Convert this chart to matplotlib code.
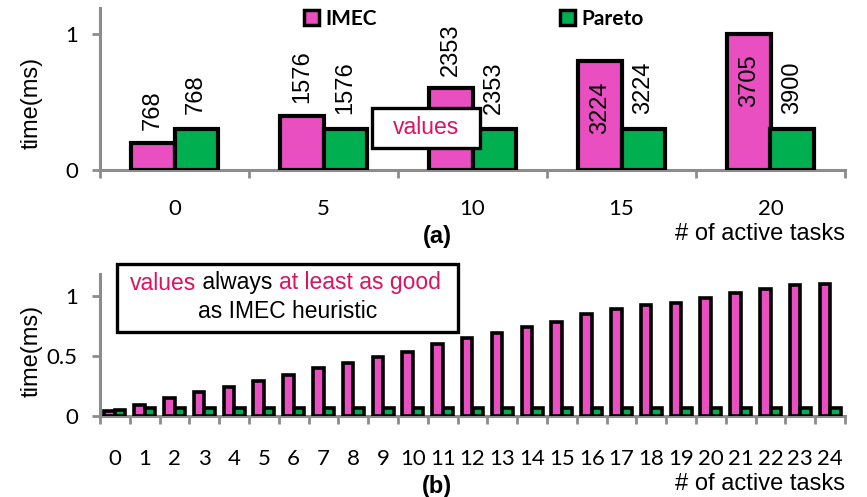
import matplotlib
matplotlib.use("Agg")
import matplotlib.pyplot as plt
import numpy as np
from matplotlib.patches import Patch, Rectangle

# ---- data (a)
cats_a = [0, 5, 10, 15, 20]
imec_a = [0.2, 0.4, 0.6, 0.8, 1.0]
pareto_a = [0.3, 0.3, 0.3, 0.3, 0.3]
imec_lab = ['768', '1576', '2353', '3224', '3705']
pareto_lab = ['768', '1576', '2353', '3224', '3900']

# ---- data (b)
cats_b = list(range(25))
imec_b = [0.04, 0.09, 0.15, 0.20, 0.24, 0.29, 0.335, 0.395, 0.44, 0.487, 0.533,
          0.595, 0.645, 0.69, 0.737, 0.783, 0.845, 0.889, 0.92, 0.937, 0.98,
          1.025, 1.056, 1.09, 1.10]
pareto_b = [0.05] + [0.06] * 24

PINK = '#E94FC0'
GREEN = '#00B050'
RED = '#E0115F'
GRAY = '#8C8C8C'

plt.rcParams['font.family'] = ['Liberation Sans', 'DejaVu Sans']

W, H = 867, 497
fig = plt.figure(figsize=(W / 100, H / 100), dpi=100)


def px(x0, y0, x1, y1):
    # pixel box -> figure rect
    return [x0 / W, 1 - y1 / H, (x1 - x0) / W, (y1 - y0) / H]


def style_axes(ax, n, ymax, yticks, ylabels, pad):
    for s in ['top', 'right']:
        ax.spines[s].set_visible(False)
    for s in ['left', 'bottom']:
        ax.spines[s].set_color(GRAY)
        ax.spines[s].set_linewidth(2.2)
    ax.set_xlim(-0.5, n - 0.5)
    ax.set_ylim(0, ymax)
    ax.set_xticks(np.arange(-0.5, n, 1.0))
    ax.set_xticklabels([])
    ax.tick_params(axis='x', which='major', direction='out', length=6,
                   width=2, color=GRAY)
    ax.set_yticks(yticks)
    ax.set_yticklabels(ylabels, fontfamily='Lato', fontsize=16)
    ax.tick_params(axis='y', direction='out', length=6, width=2,
                   color=GRAY, pad=10)
    ax.tick_params(axis='x', which='minor', length=0, pad=pad,
                   labelsize=16)


# ---------------- (a)
ax1 = fig.add_axes(px(100, 8, 845, 170))
xa = np.arange(len(cats_a))
wa = 0.29
ax1.bar(xa - wa / 2, imec_a, wa, color=PINK, edgecolor='black', lw=3, zorder=3)
ax1.bar(xa + wa / 2, pareto_a, wa, color=GREEN, edgecolor='black', lw=3, zorder=3)
style_axes(ax1, len(cats_a), 1.19, [0, 1], ['0', '1'], 21)
ax1.set_xticks(xa, minor=True)
ax1.set_xticklabels([str(c) for c in cats_a], minor=True, fontfamily='Lato')

for i in range(len(cats_a)):
    if imec_a[i] >= 0.75:
        ax1.annotate(imec_lab[i], (xa[i] - wa / 2, imec_a[i]), xytext=(0, -15),
                     textcoords='offset points', rotation=90, ha='center',
                     va='top', fontsize=17, zorder=5)
    else:
        ax1.annotate(imec_lab[i], (xa[i] - wa / 2, imec_a[i]), xytext=(0, 9),
                     textcoords='offset points', rotation=90, ha='center',
                     va='bottom', fontsize=17, zorder=5, annotation_clip=False)
    ax1.annotate(pareto_lab[i], (xa[i] + wa / 2, pareto_a[i]), xytext=(0, 11),
                 textcoords='offset points', rotation=90, ha='center',
                 va='bottom', fontsize=17, zorder=5)

handles = [Patch(facecolor=PINK, edgecolor='black', lw=2.5, label='IMEC'),
           Patch(facecolor=GREEN, edgecolor='black', lw=2.5, label='Pareto')]
fig.legend(handles=handles, loc='center left', bbox_to_anchor=(294 / W, 1 - 19 / H),
           ncol=2, frameon=False, handlelength=0.7, handleheight=0.7,
           handletextpad=0.3, columnspacing=8.8, borderpad=0,
           prop={'family': 'Lato', 'weight': 'bold', 'size': 15})

fig.text(32 / W, 1 - 103 / H, 'time(ms)', rotation=90, ha='center',
         va='center', fontsize=17)
fig.text(437 / W, 1 - 243 / H, '(a)', ha='center', va='baseline',
         fontsize=17, fontweight='bold')
fig.text(845 / W, 1 - 240 / H, '# of active tasks', ha='right',
         va='baseline', fontsize=17)

fig.add_artist(Rectangle((372 / W, 1 - 148 / H), 108 / W, 40 / H,
                         transform=fig.transFigure, facecolor='white',
                         edgecolor='black', lw=2.4, zorder=10))
fig.text(426 / W, 1 - 128 / H, 'values', color=RED, ha='center',
         va='center', fontsize=16.5, zorder=11)

# ---------------- (b)
ax2 = fig.add_axes(px(100, 274, 845, 415.7))
xb = np.arange(len(cats_b))
wb = 0.35
ax2.bar(xb - wb / 2, imec_b, wb, color=PINK, edgecolor='black', lw=2.6, zorder=3)
ax2.bar(xb + wb / 2, pareto_b, wb, color=GREEN, edgecolor='black', lw=2.6, zorder=3)
style_axes(ax2, len(cats_b), 1.18, [0, 0.5, 1], ['0', '0.5', '1'], 24)
ax2.set_xticks(xb, minor=True)
ax2.set_xticklabels([str(c) for c in cats_b], minor=True, fontfamily='Lato')

fig.text(32 / W, 1 - 351 / H, 'time(ms)', rotation=90, ha='center',
         va='center', fontsize=17)
fig.text(437 / W, 1 - 493 / H, '(b)', ha='center', va='baseline',
         fontsize=17, fontweight='bold')
fig.text(845 / W, 1 - 490 / H, '# of active tasks', ha='right',
         va='baseline', fontsize=17)

fig.add_artist(Rectangle((117 / W, 1 - 332 / H), 341 / W, 68 / H,
                         transform=fig.transFigure, facecolor='white',
                         edgecolor='black', lw=2.4, zorder=10))
# multi-coloured first line, pieces chained one after another
t1 = fig.text(130 / W, 1 - 283 / H, 'values', color=RED, ha='left',
              va='center', fontsize=16.5, zorder=11)
a1 = fig.add_artist(plt.Annotation(' always ', xy=(1, 0), xycoords=t1,
                                   va='bottom', ha='left', fontsize=16.5,
                                   color='black', zorder=11))
fig.add_artist(plt.Annotation('at least as good', xy=(1, 0), xycoords=a1,
                              va='bottom', ha='left', fontsize=16.5,
                              color=RED, zorder=11))
fig.text(288 / W, 1 - 312 / H, 'as IMEC heuristic', ha='center',
         va='center', fontsize=16.5, zorder=11)

fig.savefig('out.png', dpi=100)
